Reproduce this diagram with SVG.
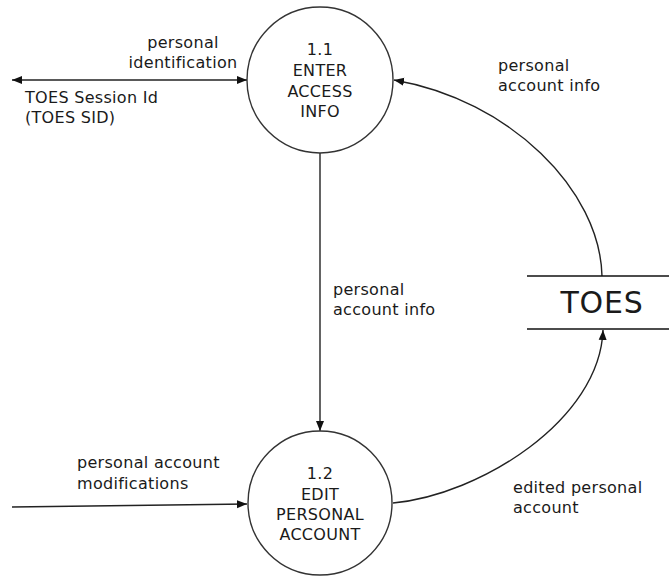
<svg xmlns="http://www.w3.org/2000/svg" width="669" height="576" viewBox="0 0 669 576">
<style>
text{font-family:"DejaVu Sans",Verdana,sans-serif;font-size:16px;fill:#1a1a1a;letter-spacing:0.3px}
.c{text-anchor:middle}
.node{fill:#fff;stroke:#333;stroke-width:1.4}
.ln{fill:none;stroke:#222;stroke-width:1.4}
.store{stroke:#111;stroke-width:1.6}
</style>
<defs>
<marker id="ah" viewBox="0 0 10 10" refX="10" refY="5" markerWidth="10" markerHeight="10" markerUnits="userSpaceOnUse" orient="auto-start-reverse">
<path d="M0,1 L10,5 L0,9 Z" fill="#111"/>
</marker>
</defs>
<g id="connectors">
<line class="ln" x1="12" y1="80" x2="247" y2="80" marker-start="url(#ah)" marker-end="url(#ah)"/>
<line class="ln" x1="320" y1="153" x2="320" y2="431" marker-end="url(#ah)"/>
<line class="ln" x1="12" y1="507" x2="247" y2="504" marker-end="url(#ah)"/>
<path class="ln" d="M602,276 C600,190 510,100 394,80" marker-end="url(#ah)"/>
<path class="ln" d="M393,503 C480,495 600,420 603,330" marker-end="url(#ah)"/>
</g>
<g id="labels">
<text class="c" x="183" y="48">personal</text>
<text class="c" x="183" y="68">identification</text>
<text x="25" y="103">TOES Session Id</text>
<text x="25" y="123">(TOES SID)</text>
<text x="498" y="71">personal</text>
<text x="498" y="91">account info</text>
<text x="333" y="295">personal</text>
<text x="333" y="315">account info</text>
<text x="77" y="468">personal account</text>
<text x="77" y="489">modifications</text>
<text x="513" y="493">edited personal</text>
<text x="513" y="513">account</text>
</g>
<g id="node-1-1">
<circle class="node" cx="320" cy="80" r="73"/>
<text class="c" x="320" y="55">1.1</text>
<text class="c" x="320" y="76">ENTER</text>
<text class="c" x="320" y="97">ACCESS</text>
<text class="c" x="320" y="117">INFO</text>
</g>
<g id="node-1-2">
<circle class="node" cx="320" cy="503" r="72"/>
<text class="c" x="320" y="479">1.2</text>
<text class="c" x="320" y="500">EDIT</text>
<text class="c" x="320" y="520">PERSONAL</text>
<text class="c" x="320" y="540">ACCOUNT</text>
</g>
<g id="store-toes">
<line class="store" x1="527" y1="276" x2="669" y2="276"/>
<line class="store" x1="527" y1="329" x2="669" y2="329"/>
<text class="c" x="602" y="313" style="font-size:30px;letter-spacing:0.8px">TOES</text>
</g>
</svg>
